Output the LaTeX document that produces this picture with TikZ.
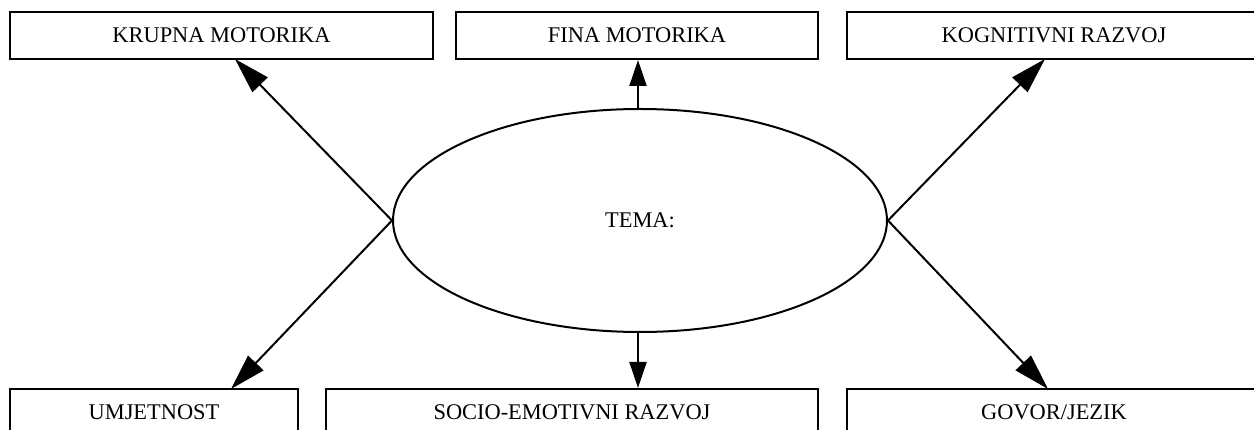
\documentclass[tikz,border=0pt]{standalone}
\usepackage{fontspec}
\setmainfont{Liberation Serif}
\usetikzlibrary{shapes.geometric,arrows.meta}
\begin{document}
\begin{tikzpicture}[x=1pt,y=-1pt,line width=2pt,
  lbl/.style={font=\fontsize{22.4}{25}\selectfont},
  box/.style={draw,rectangle,inner sep=0pt,minimum height=47pt,lbl},
  hub/.style={draw,ellipse,inner sep=0pt,minimum width=494pt,minimum height=223pt,lbl},
  varr/.style={-{Triangle[length=26pt,width=17pt]}},
  darr/.style={-{Triangle[length=36pt,width=21pt]}}]
\useasboundingbox (0,0) rectangle (1254,430);
\clip (0,0) rectangle (1254,430);
% top boxes
\node[box,minimum width=423pt] (km) at (221.5,35.5) {KRUPNA MOTORIKA};
\node[box,minimum width=362pt] (fm) at (637,35.5) {FINA MOTORIKA};
\node[box,minimum width=414pt] (kr) at (1054,35.5) {KOGNITIVNI RAZVOJ};
% bottom boxes
\node[box,minimum width=288pt] (um) at (154,412.5) {UMJETNOST};
\node[box,minimum width=492pt] (se) at (572,412.5) {SOCIO-EMOTIVNI RAZVOJ};
\node[box,minimum width=414pt] (gj) at (1054,412.5) {GOVOR/JEZIK};
% hub
\node[hub] (tema) at (640,220.5) {TEMA:};
% arrow end points on the boxes
\coordinate (tkm) at (235,59);
\coordinate (tkr) at (1045,59);
\coordinate (tum) at (231,389);
\coordinate (tgj) at (1048,389);
\coordinate (sfm) at (638,109);
\coordinate (ssf) at (638,332);
% connectors
\draw[darr] (tema.west) -- (tkm);
\draw[darr] (tema.west) -- (tum);
\draw[darr] (tema.east) -- (tkr);
\draw[darr] (tema.east) -- (tgj);
\draw[varr] (sfm) -- (fm.south -| sfm);
\draw[varr] (ssf) -- (se.north -| ssf);
\end{tikzpicture}
\end{document}
